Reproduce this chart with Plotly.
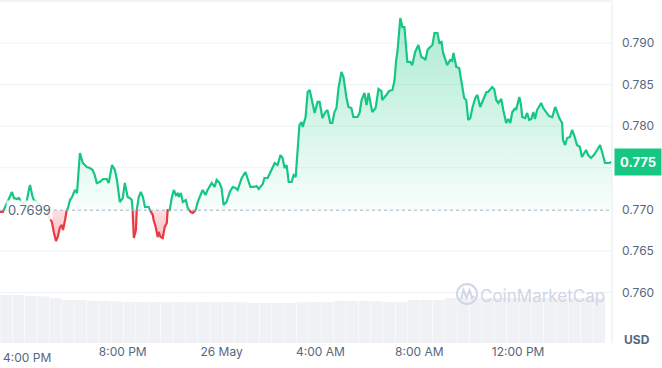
import plotly.graph_objects as go
import pandas as pd

START = "2024-05-25 15:02"
BASELINE = 0.7699
LAST_LABEL = "0.775"

# minutes after START, price in USD
minutes = [0,7,17,24,29,34,41,46,51,58,65,70,73,78,82,90,97,107,114,116,121,126,131,136,141,145,150,153,158,162,
           165,170,175,182,187,194,201,211,218,225,230,235,242,250,259,264,272,279,284,291,298,303,310,315,320,322,325,330,332,337,
           342,347,352,356,361,364,371,373,378,383,385,390,395,400,405,407,412,417,422,427,432,434,439,444,451,456,463,468,475,480,
           485,492,499,504,514,521,526,533,538,543,550,558,565,572,577,587,596,601,608,616,623,628,638,642,650,659,667,674,681,686,
           691,696,701,708,713,718,722,727,732,735,742,747,752,759,764,771,776,783,790,795,802,807,812,817,822,829,834,841,846,853,
           858,868,873,878,885,890,895,902,904,912,919,926,928,938,945,953,958,962,965,972,977,982,989,996,1001,1008,1016,1023,1028,1033,
           1038,1042,1050,1055,1062,1067,1072,1076,1084,1086,1093,1098,1101,1108,1115,1122,1127,1132,1137,1142,1147,1154,1159,1166,1171,1181,
           1185,1190,1195,1200,1205,1210,1217,1222,1229,1234,1239,1244,1251,1253,1261,1265,1268,1275,1280,1285,1290,1295,1299,1304,1314,1319,
           1326,1333,1341,1348,1353,1358,1365,1367,1372,1377,1384,1389,1394,1401,1408,1413,1423,1428,1435,1442,1450,1457,1462,1469,1479,1484]

price = [0.76968,0.76968,0.77076,0.77172,0.77208,0.77136,0.77124,0.77136,0.77088,0.77076,0.77100,0.77233,0.77293,0.77172,0.77112,0.77088,0.77052,0.77028,0.7699,0.76932,
         0.76896,0.76848,0.76716,0.76619,0.76679,0.76776,0.76812,0.76752,0.76872,0.7699,0.77016,0.77112,0.77148,0.77233,0.77196,0.77677,0.77557,0.77509,0.77497,0.77473,
         0.77413,0.77317,0.77329,0.77365,0.77365,0.77317,0.77533,0.77473,0.77353,0.77088,0.77136,0.77317,0.77148,0.77136,0.77112,0.7699,0.76655,0.76752,0.7699,0.77148,
         0.77208,0.77148,0.77028,0.77028,0.77028,0.7699,0.76932,0.76872,0.76788,0.76667,0.76728,0.76667,0.76655,0.76788,0.76836,0.7699,0.7699,0.77136,0.77233,0.77172,
         0.77196,0.77148,0.77196,0.77088,0.77112,0.77016,0.76968,0.76956,0.7699,0.77088,0.77148,0.77233,0.77172,0.77233,0.77317,0.77269,0.77353,0.77317,0.77257,0.77052,
         0.77088,0.77208,0.77269,0.77257,0.77233,0.77377,0.77449,0.77377,0.77269,0.77269,0.77281,0.77245,0.77305,0.77377,0.77377,0.77473,0.77557,0.77533,0.77653,0.77617,
         0.77497,0.77533,0.77329,0.77329,0.77413,0.77389,0.77713,0.78014,0.78050,0.77990,0.78110,0.78411,0.78435,0.78279,0.78158,0.78291,0.78291,0.78098,0.78170,0.78194,
         0.78038,0.78038,0.78170,0.78218,0.78459,0.78651,0.78591,0.78351,0.78230,0.78218,0.78110,0.78110,0.78158,0.78315,0.78399,0.78255,0.78399,0.78218,0.78170,0.78218,
         0.78447,0.78423,0.78315,0.78375,0.78423,0.78435,0.78555,0.78796,0.78892,0.79301,0.79192,0.79192,0.78772,0.78772,0.78735,0.78892,0.78976,0.78832,0.78820,0.78796,
         0.78916,0.78940,0.78976,0.79120,0.79120,0.79000,0.79012,0.78880,0.78772,0.78735,0.78796,0.78784,0.78880,0.78711,0.78699,0.78471,0.78339,0.78315,0.78074,0.78098,
         0.78218,0.78339,0.78375,0.78230,0.78291,0.78411,0.78411,0.78435,0.78471,0.78447,0.78315,0.78279,0.78327,0.78194,0.78038,0.78086,0.78038,0.78170,0.78218,0.78194,
         0.78351,0.78255,0.78110,0.78098,0.78158,0.78074,0.78086,0.78170,0.78086,0.78194,0.78279,0.78218,0.78170,0.78122,0.78110,0.78230,0.78170,0.78098,0.78038,0.77834,
         0.77774,0.77858,0.77870,0.77954,0.77894,0.77774,0.77750,0.77629,0.77713,0.77653,0.77617,0.77653,0.77713,0.77774,0.77689,0.77557,0.77557,0.77569]

# 30-minute volume bars (million USD)
volume = [2.40,2.40,2.35,2.33,2.25,2.15,2.15,2.10,2.10,2.08,2.05,2.05,2.05,2.05,2.05,2.05,2.05,2.05,2.05,2.03,
          2.00,2.00,2.00,2.00,2.03,2.05,2.05,2.10,2.10,2.10,2.08,2.05,2.05,2.15,2.15,2.15,2.25,2.25,2.25,2.25,
          2.25,2.25,2.25,2.25,2.25,2.25,2.25,2.25,2.25]

grid_vals = [0.760, 0.765, 0.775, 0.780, 0.785, 0.790]
ytick_vals = [0.760, 0.765, 0.770, 0.780, 0.785, 0.790]   # 0.775 sits under the live-price tag
xtick_times = ["2024-05-25 16:00", "2024-05-25 20:00", "2024-05-26 00:00",
               "2024-05-26 04:00", "2024-05-26 08:00", "2024-05-26 12:00"]
xtick_text = ["4:00 PM", "8:00 PM", "26 May", "4:00 AM", "8:00 AM", "12:00 PM"]

assert len(minutes) == len(price)

GREEN = "#16c784"
RED = "#ea3943"
TXT = "#58667e"
GRID = "#eff2f5"

# insert baseline crossings so the two colours meet cleanly
m, p = [], []
for i in range(len(minutes)):
    if i > 0:
        a, b = price[i - 1] - BASELINE, price[i] - BASELINE
        if a * b < 0:
            f = a / (a - b)
            m.append(minutes[i - 1] + f * (minutes[i] - minutes[i - 1]))
            p.append(BASELINE)
    m.append(minutes[i])
    p.append(price[i])

t0 = pd.Timestamp(START)
t = t0 + pd.to_timedelta(m, unit="min")
vol_t = t0 + pd.to_timedelta([15 + 30 * i for i in range(len(volume))], unit="min")

up_fill = [max(v, BASELINE) for v in p]
dn_fill = [min(v, BASELINE) for v in p]
up_line = [v if v >= BASELINE else None for v in p]
dn_line = [v if v <= BASELINE else None for v in p]
base = [BASELINE] * len(p)

fig = go.Figure()
fig.add_trace(go.Bar(x=vol_t, y=volume, yaxis="y2", marker=dict(color="#eff1f4", line=dict(width=0)),
                     width=30 * 60 * 1000 * 0.96, hoverinfo="skip", showlegend=False))
fig.add_trace(go.Scatter(x=t, y=base, mode="lines", line=dict(width=0, color="rgba(0,0,0,0)"),
                         hoverinfo="skip", showlegend=False))
fig.add_trace(go.Scatter(x=t, y=up_fill, mode="lines", line=dict(width=0, color="rgba(0,0,0,0)"),
                         fill="tonexty",
                         fillgradient=dict(type="vertical",
                                           colorscale=[[0, "rgba(22,199,132,0.03)"], [1, "rgba(22,199,132,0.36)"]]),
                         hoverinfo="skip", showlegend=False))
fig.add_trace(go.Scatter(x=t, y=base, mode="lines", line=dict(width=0, color="rgba(0,0,0,0)"),
                         hoverinfo="skip", showlegend=False))
fig.add_trace(go.Scatter(x=t, y=dn_fill, mode="lines", line=dict(width=0, color="rgba(0,0,0,0)"),
                         fill="tonexty",
                         fillgradient=dict(type="vertical",
                                           colorscale=[[0, "rgba(234,57,67,0.32)"], [1, "rgba(234,57,67,0.16)"]]),
                         hoverinfo="skip", showlegend=False))
fig.add_trace(go.Scatter(x=t, y=up_line, mode="lines", line=dict(color=GREEN, width=2.2),
                         showlegend=False))
fig.add_trace(go.Scatter(x=t, y=dn_line, mode="lines", line=dict(color=RED, width=2.2),
                         showlegend=False))

shapes = []
for v in grid_vals:
    shapes.append(dict(type="line", xref="paper", x0=0, x1=1, yref="y", y0=v, y1=v,
                       line=dict(color=GRID, width=1), layer="below"))
shapes.append(dict(type="line", xref="paper", x0=0, x1=1, yref="y", y0=BASELINE, y1=BASELINE,
                   line=dict(color="#a6b0c3", width=1, dash="dot"), layer="above"))
shapes.append(dict(type="line", xref="paper", x0=0, x1=1, yref="paper", y0=1, y1=1,
                   line=dict(color="#e6e9ee", width=1)))
shapes.append(dict(type="line", xref="paper", x0=1, x1=1, yref="paper", y0=0, y1=1,
                   line=dict(color="#e6e9ee", width=1)))
# watermark logo
shapes.append(dict(type="circle", xref="paper", yref="paper", x0=0.7467, x1=0.7794, y0=0.1140, y1=0.1725,
                   line=dict(color="#cfd6e4", width=2)))
shapes.append(dict(type="path", xref="paper", yref="paper",
                   path="M 0.7533 0.1287 L 0.7574 0.1550 L 0.7623 0.1316 L 0.7672 0.1550 L 0.7712 0.1316 L 0.7745 0.1374",
                   line=dict(color="#cfd6e4", width=2)))

annotations = [
    dict(text="CoinMarketCap", xref="paper", yref="paper", x=0.886, y=0.137, showarrow=False,
         font=dict(size=17, color="#cfd6e4", family="Inter"), xanchor="center", yanchor="middle"),
    dict(text=f"{BASELINE}", xref="paper", yref="y", x=0, y=BASELINE, xshift=6, xanchor="left", yanchor="middle",
         showarrow=False, font=dict(size=13, color=TXT, family="Inter"), bgcolor="rgba(255,255,255,0.85)",
         borderpad=1),
    dict(text=f"<b>{LAST_LABEL}</b>", xref="paper", yref="y", x=1, y=price[-1], xshift=2, xanchor="left",
         yanchor="middle", showarrow=False, font=dict(size=13, color="white", family="Inter"),
         bgcolor=GREEN, borderpad=5),
    dict(text="<b>USD</b>", xref="paper", yref="paper", x=1.041, y=0.01, xanchor="center", yanchor="middle",
         showarrow=False, font=dict(size=12, color=TXT, family="Inter")),
    # first time label is nudged inward so it is not clipped at the left edge
    dict(text=xtick_text[0], xref="x", yref="paper", x=xtick_times[0], y=0, yshift=-14, xshift=3,
         xanchor="center", yanchor="middle", showarrow=False, font=dict(size=12, color=TXT, family="Inter")),
]

fig.update_layout(
    width=662, height=368,
    margin=dict(l=0, r=50, t=1, b=25),
    paper_bgcolor="white", plot_bgcolor="white",
    font=dict(family="Inter", color=TXT, size=12),
    showlegend=False,
    bargap=0.04,
    shapes=shapes,
    annotations=annotations,
    xaxis=dict(type="date", range=[t0, t0 + pd.Timedelta(minutes=1486)],
               tickvals=xtick_times[1:], ticktext=xtick_text[1:], showgrid=False, zeroline=False,
               showline=False, ticks="", tickfont=dict(size=12, color=TXT)),
    yaxis=dict(side="right", range=[0.75393, 0.79505], tickvals=ytick_vals, tickformat=".3f",
               showgrid=False, zeroline=False, showline=False, ticks="", ticklabelstandoff=9,
               tickfont=dict(size=12, color=TXT)),
    yaxis2=dict(overlaying="y", range=[0, 17.1], visible=False),
)

fig.write_html("out.html", config={"displayModeBar": False},
               post_script="document.body.style.margin='0px';")
